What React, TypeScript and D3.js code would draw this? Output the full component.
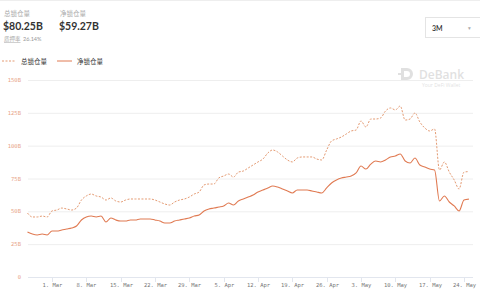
import React from "react";
import * as d3 from "d3";

const startDate = "2021-02-24";
const totalLocked = [48.7,45.7,45.7,46.4,45.7,50.3,51.0,52.5,51.8,51.0,52.5,58.6,61.7,63.2,61.7,60.9,58.6,60.2,57.9,57.1,58.6,59.4,59.4,59.4,59.4,59.4,58.6,57.1,55.6,54.8,57.1,58.6,59.4,60.9,63.2,64.7,70.1,70.8,70.8,75.4,76.9,78.4,76.1,79.9,80.7,83.0,85.3,87.6,89.8,94.4,96.7,95.2,92.1,89.1,87.6,90.6,91.4,91.4,91.4,89.8,89.1,96.7,103.6,105.1,106.6,108.9,111.2,111.9,118.8,114.2,120.3,120.3,121.1,126.4,128.7,127.2,130.2,119.5,120.3,124.9,118.0,113.5,111.2,112.7,81.5,87.6,79.9,73.9,67.0,79.9,80.25];
const netLocked = [34.3,32.7,32.0,32.7,32.0,35.0,35.0,35.8,36.5,37.3,38.8,43.4,45.7,46.4,45.7,46.4,41.9,44.9,43.4,42.6,42.6,43.4,43.4,44.2,44.2,44.2,43.4,42.6,41.1,41.1,42.6,43.4,44.2,44.9,46.4,47.2,50.3,51.8,52.5,53.3,54.1,56.3,54.8,57.9,59.4,60.9,62.4,64.7,66.2,67.8,69.3,68.5,67.0,65.5,64.0,66.2,66.2,66.2,65.5,64.7,64.0,67.8,71.6,73.9,75.4,76.1,76.9,79.2,84.5,82.2,86.0,88.3,87.6,89.1,91.4,92.1,93.7,88.3,86.8,90.6,85.3,83.8,82.2,81.5,57.9,61.7,57.1,54.1,50.3,58.6,59.27];
const yTicks = [0, 25, 50, 75, 100, 125, 150];
const yTickLabels = ["0", "25B", "50B", "75B", "100B", "125B", "150B"];
const xTickDates = ["2021-03-01","2021-03-08","2021-03-15","2021-03-22","2021-03-29","2021-04-05","2021-04-12","2021-04-19","2021-04-26","2021-05-03","2021-05-10","2021-05-17","2021-05-24"];
const xTickLabels = ["1. Mar","8. Mar","15. Mar","22. Mar","29. Mar","5. Apr","12. Apr","19. Apr","26. Apr","3. May","10. May","17. May","24. May"];
const legendNames = ["总锁仓量", "净锁仓量"];
const headerLabels = ["总锁仓量", "净锁仓量", "质押率"];
const headerValues = ["$80.25B", "$59.27B", "26.14%"];

const W = 480, H = 300;
const TOTAL_COLOR = "#e49a72";
const NET_COLOR = "#e07a52";
const CJK = "'Noto Sans CJK SC', 'Noto Sans', sans-serif";

export default function App() {
  const parse = d3.utcParse("%Y-%m-%d");
  const t0 = parse(startDate)!;
  const dates = totalLocked.map((_, i) => d3.utcDay.offset(t0, i));
  const x = d3.scaleUtc().domain([parse("2021-03-01")!, parse("2021-05-24")!]).range([52, 464]);
  const y = d3.scaleLinear().domain([0, 150]).range([277, 80]);
  const line = (vals: number[]) =>
    d3.line<number>().x((_, i) => x(dates[i])).y((v) => y(v)).curve(d3.curveMonotoneX)(vals) || "";

  return (
    <svg width={W} height={H} style={{ position: "absolute", left: 0, top: 0, background: "#fff" }}>
      <line x1={0} x2={W} y1={0.5} y2={0.5} stroke="#eee" />
      {/* header */}
      <text x={4} y={16} fontSize={6.5} fill="#aaa" fontFamily={CJK}>{headerLabels[0]}</text>
      <text x={3} y={29.5} fontSize={10.5} fontWeight={700} fill="#333" fontFamily="Lato, 'Open Sans', sans-serif">{headerValues[0]}</text>
      <text x={60} y={16} fontSize={6.5} fill="#aaa" fontFamily={CJK}>{headerLabels[1]}</text>
      <text x={59} y={29.5} fontSize={10.5} fontWeight={700} fill="#333" fontFamily="Lato, 'Open Sans', sans-serif">{headerValues[1]}</text>
      <text x={4} y={41} fontSize={5.5} fill="#aaa" fontFamily={CJK} textDecoration="underline">{headerLabels[2]}</text>
      <text x={23} y={41} fontSize={5.5} fill="#999" fontFamily="Lato, sans-serif">{headerValues[2]}</text>
      {/* dropdown */}
      <rect x={425.5} y={17.5} width={60} height={20} fill="#fff" stroke="#e4e4e4" />
      <text x={432} y={30.5} fontSize={7} fill="#333" fontFamily="Lato, sans-serif" fontWeight={600}>3M</text>
      <text x={468} y={30} fontSize={5.5} fill="#aaa" fontFamily="DejaVu Sans">▾</text>
      {/* legend */}
      <line x1={2} x2={16} y1={61} y2={61} stroke={TOTAL_COLOR} strokeWidth={1} strokeDasharray="2,1.5" />
      <text x={21} y={63.5} fontSize={6.5} fill="#333" fontFamily={CJK}>{legendNames[0]}</text>
      <line x1={57} x2={72} y1={61} y2={61} stroke={NET_COLOR} strokeWidth={1} />
      <text x={77} y={63.5} fontSize={6.5} fill="#333" fontFamily={CJK}>{legendNames[1]}</text>
      {/* watermark */}
      <g opacity={0.25} fill="#888">
        <path d="M401,68 h6 a6,6 0 0 1 0,12 h-6 z M404,71 v6 h3 a3,3 0 0 0 0,-6 z" fillRule="evenodd" />
        <rect x={398} y={73} width={4} height={2} />
        <text x={419} y={79} fontSize={12} fontWeight={600} fontFamily="'Open Sans', sans-serif">DeBank</text>
        <text x={422} y={86.5} fontSize={5} fontFamily="'Open Sans', sans-serif">Your DeFi Wallet</text>
      </g>
      {/* grid */}
      {yTicks.map((t, i) => (
        <g key={t}>
          {t > 0 && <line x1={28} x2={473} y1={y(t) + 0.5} y2={y(t) + 0.5} stroke="#eeeeee" />}
          <text x={21} y={y(t) + 2} fontSize={5.5} fill="#e8a488" textAnchor="end" fontFamily="'DejaVu Sans Mono', monospace">{yTickLabels[i]}</text>
        </g>
      ))}
      <line x1={28} x2={473} y1={y(0) + 0.5} y2={y(0) + 0.5} stroke="#e2e6ee" />
      {xTickDates.map((d, i) => {
        const xx = Math.round(x(parse(d)!)) + 0.5;
        return (
          <g key={d}>
            <line x1={xx} x2={xx} y1={y(0)} y2={y(0) + 5} stroke="#e2e6ee" />
            <text x={xx} y={287} fontSize={5.5} fill="#777" textAnchor="middle" fontFamily="'DejaVu Sans Mono', monospace">{xTickLabels[i]}</text>
          </g>
        );
      })}
      {/* series */}
      <path d={line(totalLocked)} fill="none" stroke={TOTAL_COLOR} strokeWidth={1} strokeDasharray="2,1.5" />
      <path d={line(netLocked)} fill="none" stroke={NET_COLOR} strokeWidth={1.1} />
    </svg>
  );
}
